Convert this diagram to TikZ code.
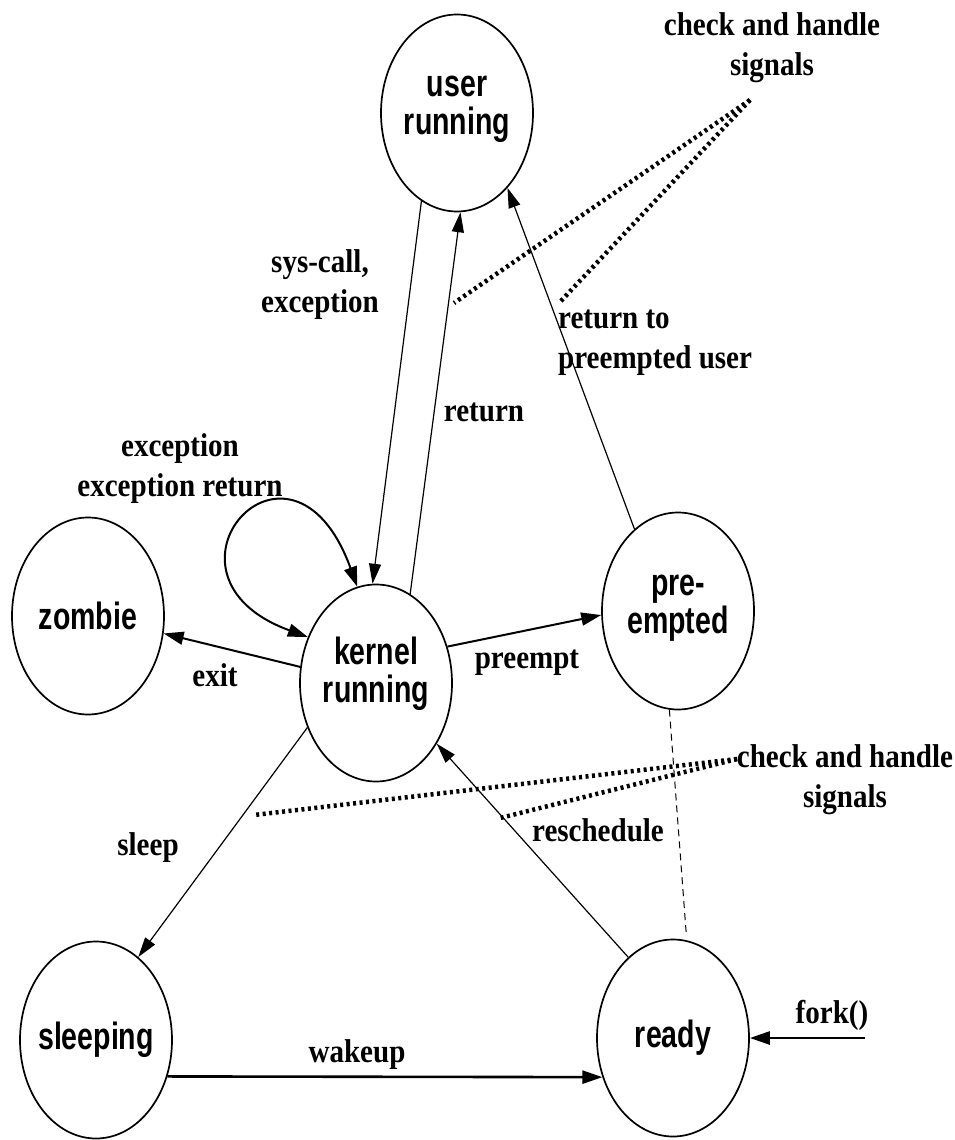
\documentclass[tikz,border=0pt]{standalone}
\usepackage{fontspec}
\setmainfont[FakeStretch=0.88]{Liberation Serif}
\newfontfamily\statefont[FakeStretch=0.75]{Liberation Sans}
\usetikzlibrary{shapes.geometric}
\usetikzlibrary{arrows.meta}

\begin{document}
\begin{tikzpicture}[x=1pt, y=-1pt,
    state/.style={draw, ellipse, line width=1.7pt, minimum width=152pt, minimum height=197pt, inner sep=0pt},
    sname/.style={font=\statefont\bfseries\fontsize{38}{38}\selectfont, align=center, inner sep=0pt},
    lbl/.style={font=\bfseries\fontsize{33}{40}\selectfont, align=center, inner sep=0pt},
    arr/.style={line width=1.2pt, -{Triangle[length=20pt, width=12pt]}},
    medarr/.style={line width=2pt, -{Triangle[length=20pt, width=13pt]}},
    thickarr/.style={line width=2.6pt, -{Triangle[length=20pt, width=13pt]}},
    loopline/.style={line width=2pt, {Triangle[length=20pt, width=13pt]}-{Triangle[length=20pt, width=13pt]}},
    sig/.style={line width=4.5pt, dash pattern=on 3pt off 3.5pt},
    ]
    \useasboundingbox (0,0) rectangle (954,1140);

    \node[state] (user) at (457,113) {};
    \node[state] (zombie) at (88,616) {};
    \node[state] (kernel) at (376,683) {};
    \node[state] (preempted) at (678,611) {};
    \node[state] (sleeping) at (96,1040) {};
    \node[state] (ready) at (673,1038) {};

    \node[sname] (user-txt) at ([yshift=4pt]user.center) {user\\running};
    \node[sname] (zombie-txt) at (zombie.center) {zombie};
    \node[sname] (kernel-txt) at ([yshift=9pt]kernel.center) {kernel\\running};
    \node[sname] (preempted-txt) at ([yshift=3pt]preempted.center) {pre-\\empted};
    \node[sname] (sleeping-txt) at (sleeping.center) {sleeping};
    \node[sname] (ready-txt) at (ready.center) {ready};

    \draw[arr] (user.248) -- (kernel.92);
    \draw[arr] (kernel.69) -- (user.272);
    \draw[arr] (preempted.118) -- (user.304);
    \draw[loopline] (kernel.146) .. controls +(200:180) and +(250:195) .. (kernel.101);
    \draw[medarr] (kernel.168) -- (zombie.347);
    \draw[medarr] (kernel.27) -- (preempted.183);
    \draw[arr] (kernel.213) -- (sleeping.63);
    \draw[arr] (ready.119) -- (kernel.315);
    \draw[thickarr] (sleeping.333) -- (ready.209);
    \coordinate (forkin) at (865,1038);
    \draw[thickarr] (forkin) -- (ready.east);
    \draw[line width=1pt, dash pattern=on 7pt off 5pt, shorten >=8pt] (preempted.265) -- (ready.82);

    \node[lbl] (sigtop) at (772,48) {check and handle\\signals};
    \node[lbl] (sigmid) at (845,780) {check and handle\\signals};
    \node[lbl] (syscall) at (320,285) {sys-call,\\exception};
    \node[lbl] (ret) at (484,412) {return};
    \node[lbl, align=left, anchor=west] (retpre) at (558,343) {return to\\preempted user};
    \node[lbl] (exc) at (180,469) {exception\\exception return};
    \node[lbl] (exit) at (215,675) {exit};
    \node[lbl] (pre) at (527,663) {preempt};
    \node[lbl] (sleep) at (148,848) {sleep};
    \node[lbl] (resched) at (598,830) {reschedule};
    \node[lbl] (wake) at (357,1055) {wakeup};
    \node[lbl] (fork) at (832,1015) {fork()};

    \coordinate (sigA) at (750,100);
    \coordinate (sigB) at (737,759);
    \coordinate (ck1) at (454,303);
    \coordinate (ck2) at (560,302);
    \coordinate (ck3) at (254,815);
    \coordinate (ck4) at (500,818);
    \draw[sig] (sigA) -- (ck1);
    \draw[sig] (sigA) -- (ck2);
    \draw[sig] (sigB) -- (ck3);
    \draw[sig] (sigB) -- (ck4);
\end{tikzpicture}
\end{document}
